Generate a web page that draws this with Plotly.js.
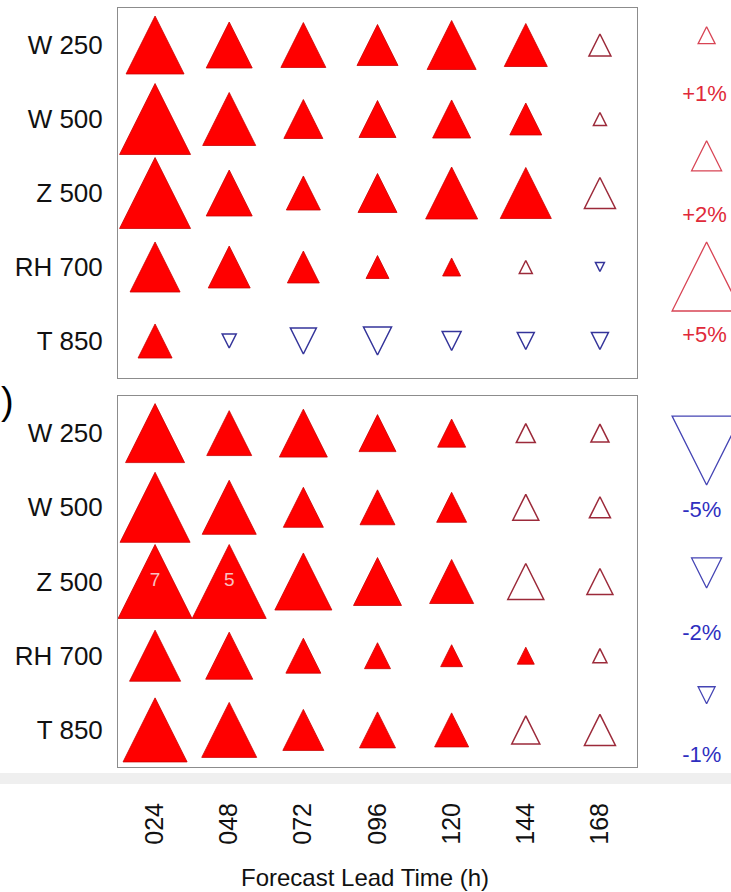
<!DOCTYPE html>
<html><head><meta charset="utf-8">
<script src="https://cdn.plot.ly/plotly-3.0.1.min.js"></script>
<style>html,body{margin:0;padding:0;background:#fff;overflow:hidden}</style>
</head><body><div id="chart" style="width:731px;height:892px"></div>
<script>
// ---------- data ----------
const leadTimes = ["024", "048", "072", "096", "120", "144", "168"];
const variables = ["W 250", "W 500", "Z 500", "RH 700", "T 850"];

// upper panel: percent change per variable (columns = lead times)
const topW250  = [4.15, 3.23, 3.15, 2.85, 3.46, 3.00, 1.38];
const topW500  = [5.15, 3.77, 2.69, 2.54, 2.62, 2.15, 0.69];
const topZ500  = [5.15, 3.23, 2.31, 2.69, 3.69, 3.62, 2.08];
const topRH700 = [3.54, 2.92, 2.15, 1.46, 1.08, 0.69, -0.38];
const topT850  = [2.31, -0.77, -1.69, -1.85, -1.15, -1.00, -1.00];
// 1 = significant (filled), 0 = not significant (open)
const topSigW250  = [1, 1, 1, 1, 1, 1, 0];
const topSigW500  = [1, 1, 1, 1, 1, 1, 0];
const topSigZ500  = [1, 1, 1, 1, 1, 1, 0];
const topSigRH700 = [1, 1, 1, 1, 1, 0, 0];
const topSigT850  = [1, 0, 0, 0, 0, 0, 0];

// lower panel
const botW250  = [4.23, 3.15, 3.38, 2.54, 1.85, 1.15, 1.08];
const botW500  = [5.08, 3.85, 2.77, 2.38, 2.00, 1.69, 1.31];
const botZ500  = [7.00, 5.50, 4.08, 3.38, 3.08, 2.46, 1.69];
const botRH700 = [3.62, 3.31, 2.38, 1.69, 1.38, 1.00, 0.77];
const botT850  = [4.62, 3.92, 2.85, 2.46, 2.31, 1.85, 2.08];
const botSigW250  = [1, 1, 1, 1, 1, 0, 0];
const botSigW500  = [1, 1, 1, 1, 1, 0, 0];
const botSigZ500  = [1, 1, 1, 1, 1, 0, 0];
const botSigRH700 = [1, 1, 1, 1, 1, 1, 0];
const botSigT850  = [1, 1, 1, 1, 1, 0, 0];

// legend keys
const legendPos = [1, 2, 5];
const legendPosText = ["+1%", "+2%", "+5%"];
const legendNeg = [-5, -2, -1];
const legendNegText = ["-5%", "-2%", "-1%"];

// ---------- styling helpers ----------
const FONT = "Liberation Sans, Arial, Helvetica, sans-serif";
const MAXSIZE = 74;
const sizeOf = v => Math.min(4 + 13 * Math.abs(v), MAXSIZE);
const capped = v => 4 + 13 * Math.abs(v) >= MAXSIZE;
const RED = "#ff0000", RED_EDGE = "#cc0000", RED_OPEN = "#9c2a3a", BLUE_OPEN = "#34349a";

function triTrace(xs, ys, vals, opts) {
  const sizes = vals.map(sizeOf);
  const up = vals.map(v => v >= 0);
  return {
    type: "scatter", mode: "markers", x: xs, y: ys,
    xaxis: opts.xa, yaxis: opts.ya, cliponaxis: false, hoverinfo: "skip", showlegend: false,
    marker: {
      symbol: "arrow-down",
      angle: up.map(u => u ? 180 : 0),
      standoff: sizes.map(s => s / 2),
      size: sizes,
      opacity: 1,
      color: opts.fill,
      line: { color: opts.line, width: opts.lw }
    }
  };
}

function panel(rows, sigs, xa, ya) {
  const groups = { f: { x: [], y: [], v: [] }, o: { x: [], y: [], v: [] } };
  const lab = { x: [], y: [], t: [] };
  rows.forEach((row, r) => row.forEach((v, c) => {
    const g = sigs[r][c] ? groups.f : groups.o;
    g.x.push(c); g.y.push(r); g.v.push(v);
    if (capped(v)) { lab.x.push(c); lab.y.push(r); lab.t.push(String(Math.floor(v))); }
  }));
  const out = [];
  const fp = groups.f;
  out.push(triTrace(fp.x, fp.y, fp.v, { xa, ya, fill: RED, line: RED_EDGE, lw: 0.8 }));
  const op = groups.o;
  const posIdx = op.v.map((v, i) => v >= 0 ? i : -1).filter(i => i >= 0);
  const negIdx = op.v.map((v, i) => v < 0 ? i : -1).filter(i => i >= 0);
  const pick = (arr, idx) => idx.map(i => arr[i]);
  out.push(triTrace(pick(op.x, posIdx), pick(op.y, posIdx), pick(op.v, posIdx),
    { xa, ya, fill: "rgba(0,0,0,0)", line: RED_OPEN, lw: 1.5 }));
  out.push(triTrace(pick(op.x, negIdx), pick(op.y, negIdx), pick(op.v, negIdx),
    { xa, ya, fill: "rgba(0,0,0,0)", line: BLUE_OPEN, lw: 1.5 }));
  if (lab.x.length) {
    out.push({
      type: "scatter", mode: "text", x: lab.x, y: lab.y, text: lab.t,
      xaxis: xa, yaxis: ya, cliponaxis: false, hoverinfo: "skip", showlegend: false,
      textposition: "middle center",
      textfont: { family: FONT, size: 19, color: "#f8c0c0" }
    });
  }
  return out;
}

const topRows = [topW250, topW500, topZ500, topRH700, topT850];
const topSigs = [topSigW250, topSigW500, topSigZ500, topSigRH700, topSigT850];
const botRows = [botW250, botW500, botZ500, botRH700, botT850];
const botSigs = [botSigW250, botSigW500, botSigZ500, botSigRH700, botSigT850];

const data = [].concat(
  panel(topRows, topSigs, "x", "y"),
  panel(botRows, botSigs, "x2", "y2")
);

// legend keys (separate small axes at right)
const keyRowsTri = [0, 2, 4], keyRowsTxt = [1, 3, 5];
data.push(triTrace(legendPos.map(() => 0.6), keyRowsTri, legendPos,
  { xa: "x3", ya: "y3", fill: "rgba(0,0,0,0)", line: "#d84454", lw: 1.3 }));
data.push({
  type: "scatter", mode: "text", x: legendPos.map(() => 0.2), y: keyRowsTxt, text: legendPosText,
  xaxis: "x3", yaxis: "y3", cliponaxis: false, hoverinfo: "skip", showlegend: false,
  textposition: "middle right", textfont: { family: FONT, size: 22, color: "#e02a3a" }
});
data.push(triTrace(legendNeg.map(() => 0.6), keyRowsTri, legendNeg,
  { xa: "x4", ya: "y4", fill: "rgba(0,0,0,0)", line: "#4444b4", lw: 1.3 }));
data.push({
  type: "scatter", mode: "text", x: legendNeg.map(() => 0.2), y: keyRowsTxt, text: legendNegText,
  xaxis: "x4", yaxis: "y4", cliponaxis: false, hoverinfo: "skip", showlegend: false,
  textposition: "middle right", textfont: { family: FONT, size: 22, color: "#2f2fbf" }
});

// ---------- layout ----------
const W = 731, H = 892;
const px = v => v / W, py = v => 1 - v / H;
const xDom = [px(118), px(637)];
const frame = { showline: true, mirror: true, linecolor: "#8c8c8c", linewidth: 1, showgrid: false, zeroline: false };
const yBase = Object.assign({}, frame, {
  range: [4.5, -0.5], tickmode: "array", tickvals: variables.map((_, i) => i), ticktext: variables,
  ticks: "", ticklabelstandoff: 9, tickfont: { family: FONT, size: 26, color: "#111" }
});
const hidden = { visible: false, showgrid: false, zeroline: false, fixedrange: true };

const layout = {
  width: W, height: H,
  margin: { l: 0, r: 0, t: 0, b: 0 },
  paper_bgcolor: "#ffffff", plot_bgcolor: "#ffffff",
  showlegend: false,
  xaxis: Object.assign({}, frame, { domain: xDom, range: [-0.5, 6.5], anchor: "y", showticklabels: false, ticks: "" }),
  yaxis: Object.assign({}, yBase, { domain: [py(378), py(8)], anchor: "x" }),
  xaxis2: Object.assign({}, frame, {
    domain: xDom, range: [-0.5, 6.5], anchor: "y2", ticks: "",
    tickmode: "array", tickvals: leadTimes.map((_, i) => i), ticktext: leadTimes,
    tickangle: -90, ticklabelstandoff: 25, tickfont: { family: FONT, size: 25, color: "#111" }
  }),
  yaxis2: Object.assign({}, yBase, { domain: [py(767), py(396)], anchor: "x2" }),
  xaxis3: Object.assign({}, hidden, { domain: [px(670), 1], range: [0, 1], anchor: "y3" }),
  yaxis3: Object.assign({}, hidden, { domain: [py(367), py(5)], range: [5.5, -0.5], anchor: "x3" }),
  xaxis4: Object.assign({}, hidden, { domain: [px(670), 1], range: [0, 1], anchor: "y4" }),
  yaxis4: Object.assign({}, hidden, { domain: [py(787), py(420)], range: [5.5, -0.5], anchor: "x4" }),
  shapes: [{
    type: "rect", xref: "paper", yref: "paper", x0: 0, x1: 1, y0: py(784), y1: py(773),
    fillcolor: "#efefef", line: { width: 0 }, layer: "below"
  }],
  annotations: [
    { text: "Forecast Lead Time (h)", xref: "paper", yref: "paper", x: px(365), y: py(877),
      xanchor: "center", yanchor: "middle", showarrow: false, font: { family: FONT, size: 24, color: "#111" } },
    { text: ")", xref: "paper", yref: "paper", x: 0, y: py(401),
      xanchor: "left", yanchor: "middle", showarrow: false, borderpad: 0,
      font: { family: FONT, size: 38, color: "#000" } }
  ]
};

Plotly.newPlot("chart", data, layout, { staticPlot: true, displayModeBar: false });
</script>
</body></html>
